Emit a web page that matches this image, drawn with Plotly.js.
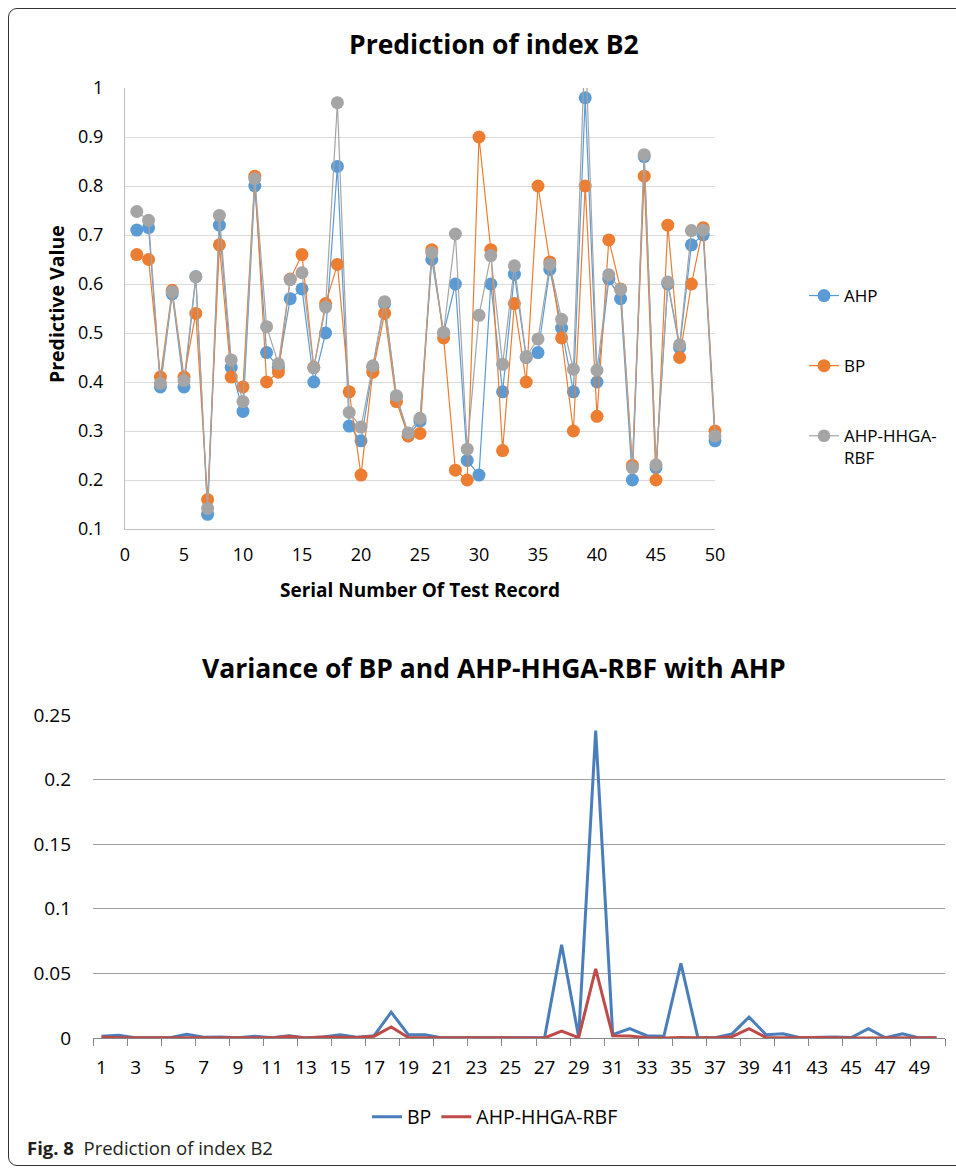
<!DOCTYPE html>
<html>
<head>
<meta charset="utf-8">
<script src="https://cdn.plot.ly/plotly-3.0.1.min.js"></script>
<style>
  html, body { margin: 0; padding: 0; background: #fff; overflow: hidden; }
  #wrap { position: relative; width: 956px; height: 1168px; }
  #chart { position: absolute; left: 0; top: 0; width: 956px; height: 1168px; }
  #frame { position: absolute; left: 8px; top: 8px; width: 1000px; height: 1156px;
           border: 1.3px solid #333; border-radius: 9px; pointer-events: none; }
</style>
</head>
<body>
<div id="wrap">
  <div id="chart"></div>
  <div id="frame"></div>
</div>
<script>
// ---------- data ----------
const serial = [1,2,3,4,5,6,7,8,9,10,11,12,13,14,15,16,17,18,19,20,21,22,23,24,25,
                26,27,28,29,30,31,32,33,34,35,36,37,38,39,40,41,42,43,44,45,46,47,48,49,50];

const ahp = [0.71,0.715,0.39,0.58,0.39,0.615,0.13,0.72,0.43,0.34,
             0.80,0.46,0.43,0.57,0.59,0.40,0.50,0.84,0.31,0.28,
             0.43,0.56,0.37,0.29,0.32,0.65,0.50,0.60,0.24,0.21,
             0.60,0.38,0.62,0.45,0.46,0.63,0.51,0.38,0.98,0.40,
             0.61,0.57,0.20,0.86,0.225,0.60,0.47,0.68,0.70,0.28];

const bp = [0.66,0.65,0.41,0.587,0.41,0.54,0.16,0.68,0.41,0.39,
            0.82,0.40,0.42,0.61,0.66,0.43,0.56,0.64,0.38,0.21,
            0.42,0.54,0.36,0.29,0.295,0.67,0.49,0.22,0.20,0.90,
            0.67,0.26,0.56,0.40,0.80,0.645,0.49,0.30,0.80,0.33,
            0.69,0.59,0.23,0.82,0.20,0.72,0.45,0.60,0.715,0.30];

const rbf = [0.748,0.73,0.397,0.584,0.403,0.615,0.142,0.74,0.445,0.36,
             0.815,0.513,0.437,0.609,0.623,0.429,0.553,0.97,0.338,0.308,
             0.433,0.564,0.372,0.296,0.326,0.664,0.501,0.702,0.263,0.536,
             0.658,0.436,0.637,0.452,0.488,0.64,0.528,0.426,1.10,0.424,
             0.619,0.589,0.225,0.864,0.231,0.604,0.476,0.709,0.71,0.29];

const varBP = [0.0013,0.0021,0.0002,0.0001,0.0002,0.0028,0.0005,0.0008,0.0002,0.0013,
               0.0002,0.0018,0.0001,0.0008,0.0025,0.0005,0.0018,0.0200,0.0025,0.0025,
               0.0001,0.0002,0.0001,0.0000,0.0003,0.0002,0.0001,0.0722,0.0008,0.2380,
               0.0025,0.0072,0.0018,0.0013,0.0578,0.0001,0.0002,0.0032,0.0162,0.0025,
               0.0032,0.0002,0.0005,0.0008,0.0003,0.0072,0.0002,0.0032,0.0001,0.0002];

const varRBF = [0.0008,0.0001,0.0001,0.0000,0.0001,0.0000,0.0001,0.0002,0.0001,0.0002,
                0.0001,0.0014,0.0000,0.0008,0.0005,0.0004,0.0014,0.0085,0.0004,0.0004,
                0.0000,0.0000,0.0000,0.0000,0.0000,0.0001,0.0000,0.0053,0.0003,0.0535,
                0.0017,0.0016,0.0002,0.0000,0.0004,0.0001,0.0002,0.0010,0.0073,0.0003,
                0.0001,0.0002,0.0003,0.0000,0.0000,0.0000,0.0000,0.0004,0.0001,0.0001];

const bottomTicks = [1,3,5,7,9,11,13,15,17,19,21,23,25,27,29,31,33,35,37,39,41,43,45,47,49];

// ---------- helpers ----------
const W = 956, H = 1168;
const px = v => v / W;
const py = v => 1 - v / H;
const FONT = '"Open Sans", "Noto Sans", sans-serif';
const TOPMAX = 1;
// markers of points beyond the top of the axis are hidden (the line still runs off the plot)
const rbfSizes = rbf.map(v => (v > TOPMAX ? 0 : 13));
const noOutline = { width: 0 };

const traces = [
  { x: serial, y: ahp, name: 'AHP', type: 'scatter', mode: 'lines+markers',
    xaxis: 'x', yaxis: 'y', legend: 'legend', legendgroup: 'a', cliponaxis: false,
    line: { color: '#5B9BD5', width: 1.2 },
    marker: { color: '#5B9BD5', size: 13, opacity: 1, line: noOutline } },
  { x: serial, y: bp, name: 'BP', type: 'scatter', mode: 'lines+markers',
    xaxis: 'x', yaxis: 'y', legend: 'legend', legendgroup: 'b', cliponaxis: false,
    line: { color: '#ED7D31', width: 1.2 },
    marker: { color: '#ED7D31', size: 13, opacity: 1, line: noOutline } },
  { x: serial, y: rbf, name: 'AHP-HHGA-<br>RBF', type: 'scatter', mode: 'lines+markers',
    xaxis: 'x', yaxis: 'y', legend: 'legend', legendgroup: 'c', cliponaxis: false,
    line: { color: '#A5A5A5', width: 1.2 },
    marker: { color: '#A5A5A5', size: rbfSizes, sizemode: 'diameter', opacity: 1, line: noOutline } },
  { x: serial, y: varBP, name: 'BP', type: 'scatter', mode: 'lines',
    xaxis: 'x2', yaxis: 'y2', legend: 'legend2',
    line: { color: '#4A7EBB', width: 3 } },
  { x: serial, y: varRBF, name: 'AHP-HHGA-RBF', type: 'scatter', mode: 'lines',
    xaxis: 'x2', yaxis: 'y2', legend: 'legend2',
    line: { color: '#BE4B48', width: 3 } }
];

const layout = {
  width: W, height: H,
  margin: { l: 0, r: 0, t: 0, b: 0 },
  paper_bgcolor: '#fff', plot_bgcolor: '#fff',
  font: { family: FONT, size: 17, color: '#000' },
  showlegend: true,
  xaxis: {
    domain: [px(125), px(715)], range: [0, 50], tickmode: 'linear', tick0: 0, dtick: 5,
    showgrid: false, zeroline: false, showline: true, linecolor: '#bfbfbf', linewidth: 1,
    ticks: '', ticklabelstandoff: 9, tickfont: { family: FONT, size: 18, color: '#000' }
  },
  yaxis: {
    domain: [py(529), py(88)], range: [0.1, TOPMAX], tickmode: 'linear', tick0: 0.1, dtick: 0.1,
    showgrid: true, gridcolor: '#d9d9d9', gridwidth: 1, zeroline: false,
    showline: true, linecolor: '#bfbfbf', linewidth: 1,
    ticks: '', ticklabelstandoff: 17, tickfont: { family: FONT, size: 18, color: '#000' }
  },
  xaxis2: {
    anchor: 'y2', domain: [px(93), px(945)], range: [0.5, 50.5],
    tickmode: 'array', tickvals: bottomTicks, ticks: '',
    minor: { tickmode: 'linear', tick0: 0.5, dtick: 2, ticks: 'outside', ticklen: 7,
             tickcolor: '#868686', tickwidth: 1, showgrid: false },
    showgrid: false, zeroline: false, showline: true, linecolor: '#868686', linewidth: 1.3,
    ticklabelstandoff: 12, tickfont: { family: FONT, size: 19, color: '#000' }
  },
  yaxis2: {
    anchor: 'x2', domain: [py(1038), py(715)], range: [0, 0.25], tickmode: 'linear',
    tick0: 0, dtick: 0.05, showgrid: true, gridcolor: '#a0a0a0', gridwidth: 1.2,
    zeroline: false, showline: false, ticks: '',
    ticklabelstandoff: 21, tickfont: { family: FONT, size: 19, color: '#000' }
  },
  legend: {
    x: px(804), xanchor: 'left', y: py(278), yanchor: 'top',
    orientation: 'v', tracegroupgap: 45, valign: 'top',
    bgcolor: 'rgba(0,0,0,0)', font: { family: FONT, size: 17, color: '#000' }
  },
  legend2: {
    x: px(495), xanchor: 'center', y: py(1117), yanchor: 'middle',
    orientation: 'h', bgcolor: 'rgba(0,0,0,0)',
    font: { family: FONT, size: 19.5, color: '#000' }
  },
  annotations: [
    { text: '<b>Prediction of index B2</b>', xref: 'paper', yref: 'paper',
      x: px(494), y: py(44), xanchor: 'center', yanchor: 'middle', showarrow: false,
      font: { family: FONT, size: 26.5, color: '#000' } },
    { text: '<b>Predictive Value</b>', xref: 'paper', yref: 'paper', textangle: -90,
      x: px(57), y: py(304), xanchor: 'center', yanchor: 'middle', showarrow: false,
      font: { family: FONT, size: 19.5, color: '#000' } },
    { text: '<b>Serial Number Of Test Record</b>', xref: 'paper', yref: 'paper',
      x: px(420), y: py(590), xanchor: 'center', yanchor: 'middle', showarrow: false,
      font: { family: FONT, size: 19, color: '#000' } },
    { text: '<b>Variance of BP and AHP-HHGA-RBF with AHP</b>', xref: 'paper', yref: 'paper',
      x: px(494), y: py(668), xanchor: 'center', yanchor: 'middle', showarrow: false,
      font: { family: FONT, size: 26.5, color: '#000' } },
    { text: '<b>Fig. 8</b>  Prediction of index B2', xref: 'paper', yref: 'paper',
      x: px(25), y: py(1147), xanchor: 'left', yanchor: 'middle', showarrow: false,
      font: { family: FONT, size: 18.5, color: '#231f20' } }
  ]
};

Plotly.newPlot('chart', traces, layout, { displayModeBar: false, staticPlot: true });
</script>
</body>
</html>
